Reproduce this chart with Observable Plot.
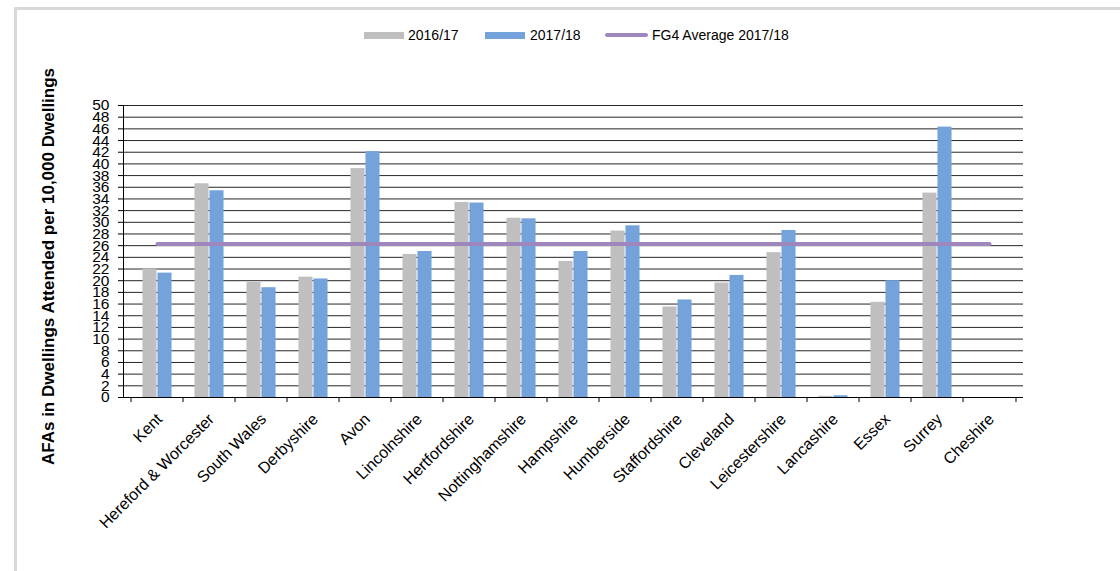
<!DOCTYPE html>
<html>
<head>
<meta charset="utf-8">
<script src="https://cdn.jsdelivr.net/npm/d3@7"></script>
<script src="https://cdn.jsdelivr.net/npm/@observablehq/plot@0.6"></script>
<style>
  html, body { margin: 0; padding: 0; background: #fff; }
  #wrap { position: relative; width: 1120px; height: 571px; overflow: hidden; font-family: "Liberation Sans", Arial, sans-serif; }
  #border { position: absolute; left: 14px; top: 7px; width: 1200px; height: 700px; border-top: 3px solid #d9d9d9; border-left: 3px solid #d9d9d9; box-sizing: border-box; }
  #chart { position: absolute; left: 0; top: 0; }
  .lg { position: absolute; font-size: 14px; color: #000; line-height: 16px; white-space: nowrap; }
  .sw { position: absolute; }
</style>
</head>
<body>
<div id="wrap">
  <div id="border"></div>
  <div id="chart"></div>
  <div id="legend"></div>
</div>
<script>
const categories = ["Kent", "Hereford & Worcester", "South Wales", "Derbyshire", "Avon", "Lincolnshire",
  "Hertfordshire", "Nottinghamshire", "Hampshire", "Humberside", "Staffordshire", "Cleveland",
  "Leicestershire", "Lancashire", "Essex", "Surrey", "Cheshire"];
const values2016_17 = [22.0, 36.6, 19.7, 20.6, 39.2, 24.5, 33.4, 30.7, 23.3, 28.5, 15.5, 19.6, 24.8, 0.2, 16.3, 35.0, 0];
const values2017_18 = [21.3, 35.4, 18.8, 20.3, 42.1, 25.0, 33.3, 30.6, 25.0, 29.4, 16.7, 20.9, 28.6, 0.3, 20.0, 46.3, 0];
const fg4Average2017_18 = 26.3;
const yTicks = [0, 2, 4, 6, 8, 10, 12, 14, 16, 18, 20, 22, 24, 26, 28, 30, 32, 34, 36, 38, 40, 42, 44, 46, 48, 50];
const seriesNames = ["2016/17", "2017/18", "FG4 Average 2017/18"];
const seriesColors = ["#bfbfbf", "#74a3dc", "#9d87bd"];
const yTitle = "AFAs in Dwellings Attended per 10,000 Dwellings";

const rows1617 = categories.map((c, i) => ({category: c, value: values2016_17[i]}));
const rows1718 = categories.map((c, i) => ({category: c, value: values2017_18[i]}));
const avgRows = categories.map(c => ({category: c, value: fg4Average2017_18}));

const W = 1120, H = 571, mL = 123, mR = 97, mT = 105, mB = 174;
const bw = (W - mL - mR) / categories.length;
const barW = 15;
const outer = (bw - 2 * barW) / 2;

const chart = Plot.plot({
  width: W, height: H,
  marginLeft: mL, marginRight: mR, marginTop: mT, marginBottom: mB,
  x: {domain: categories, padding: 0, axis: null},
  y: {domain: [0, 50], axis: null},
  style: {fontFamily: "'Liberation Sans', Arial, sans-serif", fontSize: "14px", color: "#000", background: "transparent"},
  marks: [
    Plot.ruleY(yTicks, {stroke: "#000", strokeWidth: 1, strokeOpacity: 0.85}),
    Plot.barY(rows1617, {x: "category", y: "value", fill: seriesColors[0], insetLeft: outer, insetRight: outer + barW}),
    Plot.barY(rows1718, {x: "category", y: "value", fill: seriesColors[1], insetLeft: outer + barW, insetRight: outer}),
    Plot.ruleY([0], {stroke: "#000", strokeWidth: 1}),
    Plot.frame({anchor: "left", stroke: "#000"}),
    Plot.axisY({ticks: yTicks, tickSize: 5, tickPadding: 9, fontSize: 15.5, stroke: "#000", label: null}),
    Plot.axisX({tickSize: 5, tickFormat: () => "", dx: -bw / 2, stroke: "#000", label: null}),
    Plot.axisX({ticks: [categories[categories.length - 1]], tickSize: 5, tickFormat: () => "", dx: bw / 2, stroke: "#000", label: null}),
    Plot.axisX({tickSize: 0, tickRotate: -45, tickPadding: 19, dx: 2, fontSize: 16, label: null}),
    Plot.lineY(avgRows, {x: "category", y: "value", stroke: seriesColors[2], strokeWidth: 4, strokeLinecap: "round"}),
    Plot.text([yTitle], {frameAnchor: "left", rotate: -90, textAnchor: "middle", dx: -75, dy: 15, fontWeight: "bold", fontSize: 17, text: d => d})
  ]
});
document.getElementById("chart").appendChild(chart);

// legend
const legend = document.getElementById("legend");
const items = [
  {sw: {left: 364, top: 32, width: 40, height: 7, radius: 0}, text: 408},
  {sw: {left: 485, top: 32, width: 40, height: 7, radius: 0}, text: 530},
  {sw: {left: 605, top: 33, width: 43, height: 4, radius: 2}, text: 652}
];
items.forEach((it, i) => {
  const s = document.createElement("div");
  s.className = "sw";
  Object.assign(s.style, {left: it.sw.left + "px", top: it.sw.top + "px", width: it.sw.width + "px", height: it.sw.height + "px", background: seriesColors[i], borderRadius: it.sw.radius + "px"});
  legend.appendChild(s);
  const t = document.createElement("div");
  t.className = "lg";
  t.textContent = seriesNames[i];
  Object.assign(t.style, {left: it.text + "px", top: "27px"});
  legend.appendChild(t);
});
</script>
</body>
</html>
